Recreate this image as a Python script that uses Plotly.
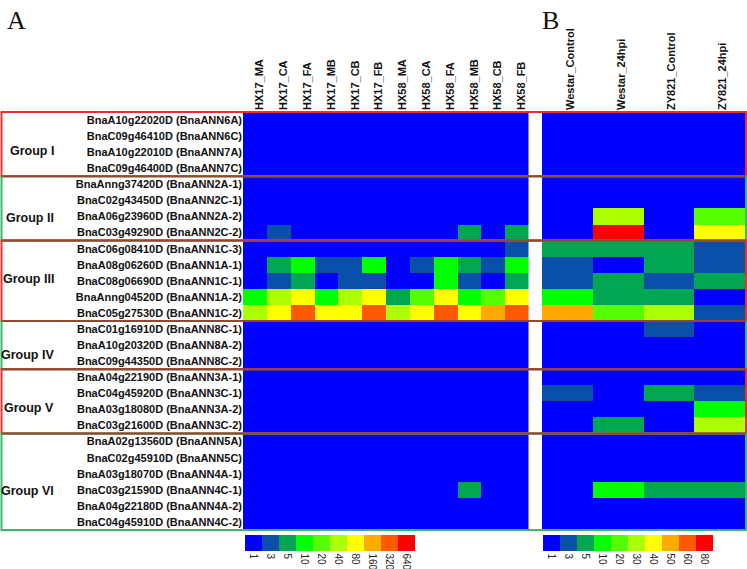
import plotly.graph_objects as go

W, H = 747, 569

# ---------------- data ----------------
GENES = [
    "BnaA10g22020D (BnaANN6A)", "BnaC09g46410D (BnaANN6C)",
    "BnaA10g22010D (BnaANN7A)", "BnaC09g46400D (BnaANN7C)",
    "BnaAnng37420D (BnaANN2A-1)", "BnaC02g43450D (BnaANN2C-1)",
    "BnaA06g23960D (BnaANN2A-2)", "BnaC03g49290D (BnaANN2C-2)",
    "BnaC06g08410D (BnaANN1C-3)", "BnaA08g06260D (BnaANN1A-1)",
    "BnaC08g06690D (BnaANN1C-1)", "BnaAnng04520D (BnaANN1A-2)",
    "BnaC05g27530D (BnaANN1C-2)",
    "BnaC01g16910D (BnaANN8C-1)", "BnaA10g20320D (BnaANN8A-2)",
    "BnaC09g44350D (BnaANN8C-2)",
    "BnaA04g22190D (BnaANN3A-1)", "BnaC04g45920D (BnaANN3C-1)",
    "BnaA03g18080D (BnaANN3A-2)", "BnaC03g21600D (BnaANN3C-2)",
    "BnaA02g13560D (BnaANN5A)", "BnaC02g45910D (BnaANN5C)",
    "BnaA03g18070D (BnaANN4A-1)", "BnaC03g21590D (BnaANN4C-1)",
    "BnaA04g22180D (BnaANN4A-2)", "BnaC04g45910D (BnaANN4C-2)",
]
GROUP_NAMES = ["Group I", "Group II", "Group III", "Group IV", "Group V", "Group VI"]
GROUP_SIZES = [4, 4, 5, 3, 4, 6]

A_COLUMNS = ["HX17_MA", "HX17_CA", "HX17_FA", "HX17_MB", "HX17_CB", "HX17_FB",
             "HX58_MA", "HX58_CA", "HX58_FA", "HX58_MB", "HX58_CB", "HX58_FB"]
B_COLUMNS = ["Westar_Control", "Westar_24hpi", "ZY821_Control", "ZY821_24hpi"]

A_TICKS = [1, 3, 5, 10, 20, 40, 80, 160, 320, 640]
B_TICKS = [1, 3, 5, 10, 20, 30, 40, 50, 60, 80]

A_VALUES = [
    [1, 1, 1, 1, 1, 1, 1, 1, 1, 1, 1, 1],
    [1, 1, 1, 1, 1, 1, 1, 1, 1, 1, 1, 1],
    [1, 1, 1, 1, 1, 1, 1, 1, 1, 1, 1, 1],
    [1, 1, 1, 1, 1, 1, 1, 1, 1, 1, 1, 1],
    [1, 1, 1, 1, 1, 1, 1, 1, 1, 1, 1, 1],
    [1, 1, 1, 1, 1, 1, 1, 1, 1, 1, 1, 1],
    [1, 1, 1, 1, 1, 1, 1, 1, 1, 1, 1, 1],
    [1, 3, 1, 1, 1, 1, 1, 1, 1, 5, 1, 5],
    [1, 1, 1, 1, 1, 1, 1, 1, 1, 1, 1, 3],
    [1, 5, 10, 3, 3, 10, 1, 3, 10, 5, 3, 10],
    [1, 3, 5, 1, 3, 3, 1, 1, 10, 3, 1, 5],
    [10, 40, 80, 10, 40, 80, 5, 20, 80, 10, 20, 80],
    [40, 80, 320, 80, 80, 320, 40, 80, 320, 80, 160, 320],
    [1, 1, 1, 1, 1, 1, 1, 1, 1, 1, 1, 1],
    [1, 1, 1, 1, 1, 1, 1, 1, 1, 1, 1, 1],
    [1, 1, 1, 1, 1, 1, 1, 1, 1, 1, 1, 1],
    [1, 1, 1, 1, 1, 1, 1, 1, 1, 1, 1, 1],
    [1, 1, 1, 1, 1, 1, 1, 1, 1, 1, 1, 1],
    [1, 1, 1, 1, 1, 1, 1, 1, 1, 1, 1, 1],
    [1, 1, 1, 1, 1, 1, 1, 1, 1, 1, 1, 1],
    [1, 1, 1, 1, 1, 1, 1, 1, 1, 1, 1, 1],
    [1, 1, 1, 1, 1, 1, 1, 1, 1, 1, 1, 1],
    [1, 1, 1, 1, 1, 1, 1, 1, 1, 1, 1, 1],
    [1, 1, 1, 1, 1, 1, 1, 1, 1, 5, 1, 1],
    [1, 1, 1, 1, 1, 1, 1, 1, 1, 1, 1, 1],
    [1, 1, 1, 1, 1, 1, 1, 1, 1, 1, 1, 1],
]

B_VALUES = [
    [1, 1, 1, 1],
    [1, 1, 1, 1],
    [1, 1, 1, 1],
    [1, 1, 1, 1],
    [1, 1, 1, 1],
    [1, 1, 1, 1],
    [1, 30, 1, 20],
    [1, 80, 1, 40],
    [5, 5, 5, 3],
    [3, 1, 5, 3],
    [3, 5, 3, 5],
    [10, 5, 5, 1],
    [50, 20, 30, 3],
    [1, 1, 3, 1],
    [1, 1, 1, 1],
    [1, 1, 1, 1],
    [1, 1, 1, 1],
    [3, 1, 5, 3],
    [1, 1, 1, 10],
    [1, 5, 1, 30],
    [1, 1, 1, 1],
    [1, 1, 1, 1],
    [1, 1, 1, 1],
    [1, 10, 5, 5],
    [1, 1, 1, 1],
    [1, 1, 1, 1],
]

# ---------------- styles ----------------
LEVEL_COLORS = ["#0000FF", "#0A50A8", "#00A651", "#00FF00", "#55FF00",
                "#AAFF00", "#FFFF00", "#FFAA00", "#FF5A00", "#FF0000"]
SANS = "Liberation Sans, Arial, sans-serif"
SERIF = "Liberation Serif, Times New Roman, serif"
RED = "#E8312F"
GREEN = "#3DB86A"
BROWN = "#8A4B32"


def px_x(p):
    return p / W


def px_y(p):
    return 1 - p / H


n = len(LEVEL_COLORS)
colorscale = []
for i, c in enumerate(LEVEL_COLORS):
    colorscale.append([i / n, c])
    colorscale.append([(i + 1) / n, c])

A_LEVELS = [[A_TICKS.index(v) for v in row] for row in A_VALUES]
B_LEVELS = [[B_TICKS.index(v) for v in row] for row in B_VALUES]


def cbar(x_left, labels):
    return dict(
        orientation="h", x=px_x(x_left), xanchor="left",
        y=px_y(535), yanchor="top", lenmode="pixels", len=170,
        thickness=16, xpad=0, ypad=0, outlinewidth=0,
        tickvals=list(range(n)), ticktext=[str(t) for t in labels],
        tickangle=90, ticks="", ticklabelposition="outside bottom",
        tickfont=dict(family=SANS, size=10, color="#222"),
    )


fig = go.Figure()
fig.add_trace(go.Heatmap(
    z=A_LEVELS, x=A_COLUMNS, y=GENES, xaxis="x", yaxis="y",
    colorscale=colorscale, zmin=-0.5, zmax=n - 0.5,
    colorbar=cbar(245, A_TICKS), showscale=True,
))
fig.add_trace(go.Heatmap(
    z=B_LEVELS, x=B_COLUMNS, y=GENES, xaxis="x2", yaxis="y2",
    colorscale=colorscale, zmin=-0.5, zmax=n - 0.5,
    colorbar=cbar(543, B_TICKS), showscale=True,
))

ydom = [px_y(531), px_y(111)]
fig.update_layout(
    width=W, height=H,
    margin=dict(l=0, r=0, t=0, b=0, autoexpand=False),
    paper_bgcolor="white", plot_bgcolor="white",
    xaxis=dict(domain=[px_x(243), px_x(528.5)], side="top", tickangle=-90,
               ticks="", ticklabelshift=5, showgrid=False, zeroline=False,
               tickfont=dict(family=SANS, size=11, color="#111", weight="bold"),
               anchor="y"),
    yaxis=dict(domain=ydom, autorange="reversed", ticks="", showgrid=False,
               zeroline=False,
               tickfont=dict(family=SANS, size=11, color="#111", weight="bold"),
               anchor="x"),
    xaxis2=dict(domain=[px_x(542), px_x(745)], side="top", tickangle=-90,
                ticks="", ticklabelshift=3, showgrid=False, zeroline=False,
                tickfont=dict(family=SANS, size=11, color="#111", weight="bold"),
                anchor="y2"),
    yaxis2=dict(domain=ydom, autorange="reversed", showticklabels=False,
                ticks="", showgrid=False, zeroline=False, anchor="x2",
                matches="y"),
)

# group boxes
shapes = []
start = 0
bounds = [0]
for gi, size in enumerate(GROUP_SIZES):
    end = start + size
    shapes.append(dict(type="rect", xref="paper", yref="y",
                       x0=px_x(1.5), x1=px_x(746), y0=start - 0.5, y1=end - 0.5,
                       line=dict(color=RED if gi % 2 == 0 else GREEN, width=2),
                       fillcolor="rgba(0,0,0,0)", layer="above"))
    start = end
    bounds.append(end)
for b in bounds[1:-1]:
    shapes.append(dict(type="line", xref="paper", yref="y",
                       x0=px_x(1.5), x1=px_x(746), y0=b - 0.5, y1=b - 0.5,
                       line=dict(color=BROWN, width=2), layer="above"))
fig.update_layout(shapes=shapes)

# group labels (row offset within group where the label sits)
LABEL_OFFSETS = [1.9, 2.1, 1.9, 1.6, 1.9, 3.1]
annotations = []
start = 0
for name, size, off in zip(GROUP_NAMES, GROUP_SIZES, LABEL_OFFSETS):
    annotations.append(dict(text=name, xref="paper", yref="y", x=px_x(56),
                            y=start + off, xanchor="right",
                            yanchor="middle", showarrow=False,
                            font=dict(family=SANS, size=12.5, color="#111",
                                      weight="bold")))
    start += size
annotations.append(dict(text="A", xref="paper", yref="paper", x=px_x(5),
                        y=px_y(4), xanchor="left", yanchor="top", showarrow=False,
                        font=dict(family=SERIF, size=26, color="#111")))
annotations.append(dict(text="B", xref="paper", yref="paper", x=px_x(540),
                        y=px_y(4), xanchor="left", yanchor="top", showarrow=False,
                        font=dict(family=SERIF, size=26, color="#111")))
fig.update_layout(annotations=annotations)

fig.write_html(
    "out.html",
    config={"displayModeBar": False},
    post_script="document.body.style.margin='0';document.body.style.overflow='hidden';",
)
